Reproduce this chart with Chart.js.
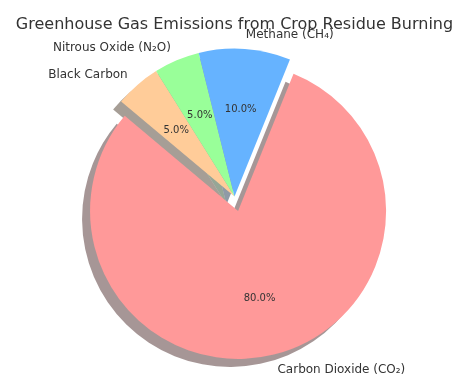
<!DOCTYPE html>
<html>
<head>
<meta charset="utf-8">
<title>Greenhouse Gas Emissions from Crop Residue Burning</title>
<script src="https://cdn.jsdelivr.net/npm/chart.js@4.4.1/dist/chart.umd.min.js"></script>
<style>
  body { margin: 0; background: #fff; }
</style>
</head>
<body>
<canvas id="myChart" width="466" height="375"></canvas>
<script>
  // data, in the order the source listed it
  const gases = ['Carbon Dioxide (CO₂)', 'Methane (CH₄)', 'Nitrous Oxide (N₂O)', 'Black Carbon'];
  const shares = [80, 10, 5, 5];
  const colors = ['#ff9999', '#66b3ff', '#99ff99', '#ffcc99'];
  const explode = [0.1, 0, 0, 0];

  // Chart.js goes clockwise, the source went counter-clockwise: flip the order
  const order = gases.map((g, i) => i).reverse();
  const total = shares.reduce((a, b) => a + b, 0);

  const textColor = '#333';
  const font = 'DejaVu Sans';

  function shadeOf(hex) {
    const n = parseInt(hex.slice(1), 16);
    const r = (n >> 16) & 255, g = (n >> 8) & 255, b = n & 255;
    return 'rgba(' + Math.round(r * 0.3) + ',' + Math.round(g * 0.3) + ',' + Math.round(b * 0.3) + ',0.5)';
  }

  // pull exploded slices out along their middle angle
  const explodePlugin = {
    id: 'explode',
    afterDatasetsUpdate(chart) {
      chart.getDatasetMeta(0).data.forEach((arc, i) => {
        const k = explode[order[i]];
        if (!k) return;
        const mid = (arc.startAngle + arc.endAngle) / 2;
        arc.x += Math.cos(mid) * k * arc.outerRadius;
        arc.y += Math.sin(mid) * k * arc.outerRadius;
      });
    }
  };

  // shadows behind every slice, shifted down-left
  const shadowPlugin = {
    id: 'shadows',
    beforeDatasetsDraw(chart) {
      const ctx = chart.ctx;
      ctx.save();
      chart.getDatasetMeta(0).data.forEach((arc, i) => {
        ctx.beginPath();
        ctx.moveTo(arc.x - 8, arc.y + 8);
        ctx.arc(arc.x - 8, arc.y + 8, arc.outerRadius, arc.startAngle, arc.endAngle);
        ctx.closePath();
        ctx.fillStyle = shadeOf(colors[order[i]]);
        ctx.fill();
      });
      ctx.restore();
    }
  };

  // names outside, percentages inside
  const labelPlugin = {
    id: 'sliceLabels',
    afterDatasetsDraw(chart) {
      const ctx = chart.ctx;
      ctx.save();
      ctx.fillStyle = textColor;
      ctx.textBaseline = 'middle';
      chart.getDatasetMeta(0).data.forEach((arc, i) => {
        const j = order[i];
        const mid = (arc.startAngle + arc.endAngle) / 2;
        const r = arc.outerRadius;
        ctx.font = '12px "' + font + '"';
        ctx.textAlign = Math.cos(mid) > 0 ? 'left' : 'right';
        ctx.fillText(gases[j], arc.x + Math.cos(mid) * r * 1.1, arc.y + Math.sin(mid) * r * 1.1 + 1);
        ctx.font = '10px "' + font + '"';
        ctx.textAlign = 'center';
        const pct = (shares[j] / total * 100).toFixed(1) + '%';
        ctx.fillText(pct, arc.x + Math.cos(mid) * r * 0.6, arc.y + Math.sin(mid) * r * 0.6 + 1);
      });
      ctx.restore();
    }
  };

  const myChart = new Chart('myChart', {
    type: 'pie',
    data: {
      labels: order.map(i => gases[i]),
      datasets: [{
        data: order.map(i => shares[i]),
        backgroundColor: order.map(i => colors[i]),
        borderWidth: 0
      }]
    },
    options: {
      responsive: false,
      animation: false,
      events: [],
      devicePixelRatio: 1,
      rotation: -50,
      radius: 148,
      layout: { padding: { left: 3, right: 0, top: 0, bottom: 16 } },
      plugins: {
        legend: { display: false },
        tooltip: { enabled: false },
        title: {
          display: true,
          text: 'Greenhouse Gas Emissions from Crop Residue Burning',
          color: textColor,
          font: { family: font, size: 16, weight: 'normal' },
          padding: { top: 15, bottom: 0 }
        }
      }
    },
    plugins: [explodePlugin, shadowPlugin, labelPlugin]
  });
</script>
</body>
</html>
